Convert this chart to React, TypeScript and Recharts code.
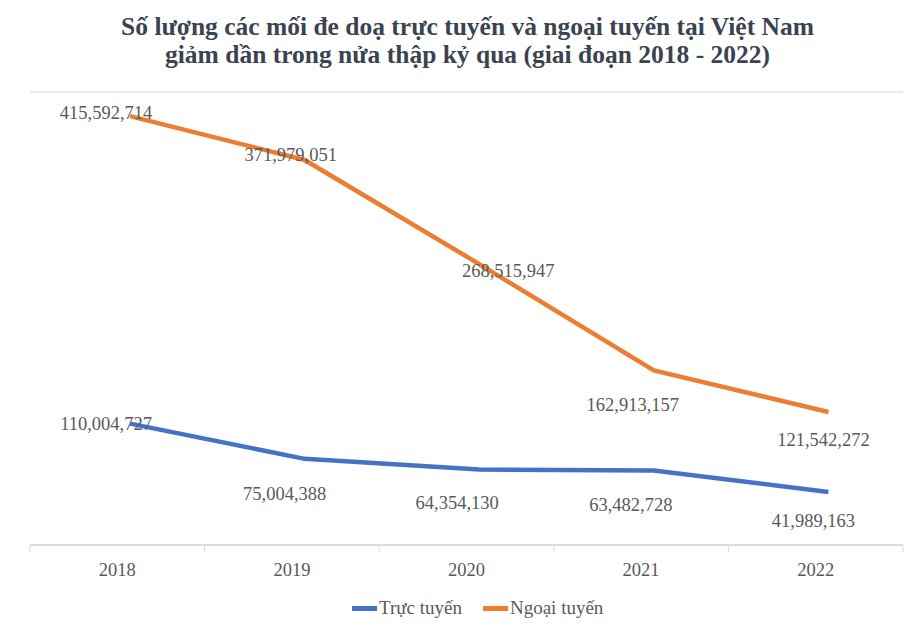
import { LineChart, Line, XAxis, YAxis, CartesianGrid, Legend, LabelList } from 'recharts';

const YEARS = [2018, 2019, 2020, 2021, 2022];
const ONLINE = [110004727, 75004388, 64354130, 63482728, 41989163];
const OFFLINE = [415592714, 371979051, 268515947, 162913157, 121542272];
const GRID_TICKS = [0, 50e6, 100e6, 150e6, 200e6, 250e6, 300e6, 350e6, 400e6, 450e6];
const AXIS_TICKS = [2017.5, 2018, 2018.5, 2019, 2019.5, 2020, 2020.5, 2021, 2021.5, 2022, 2022.5];
const LEGEND_ORDER = ['Trực tuyến', 'Ngoại tuyến'];

const data = YEARS.map((year, i) => ({ year, online: ONLINE[i], offline: OFFLINE[i] }));

// hand-placed label offsets, like the original chart
const ONLINE_LABEL_OFFSETS = [[-24, 0], [-20, 35], [-22, 33], [-23, 35], [-15, 29]];
const OFFLINE_LABEL_OFFSETS = [[-24, -3], [-14, -5], [29, 7], [-21, 35], [-5, 28]];

const SERIF = '"Liberation Serif", "Times New Roman", serif';
const TEXT_GRAY = '#595959';
const BLUE = '#4472C4';
const ORANGE = '#ED7D31';

function makeLabel(offsets: number[][]) {
  return (props: any) => {
    const { x, y, value, index } = props;
    const [dx, dy] = offsets[index] || [0, 0];
    return (
      <text
        x={x + dx}
        y={y + dy}
        textAnchor="middle"
        dominantBaseline="central"
        fontFamily={SERIF}
        fontSize={18.5}
        fill={TEXT_GRAY}
      >
        {Number(value).toLocaleString('en-US')}
      </text>
    );
  };
}

function YearTick(props: any) {
  const { x, y, payload } = props;
  const v = payload.value;
  if (v % 1 !== 0) {
    return <line x1={x} x2={x} y1={y} y2={y + 7} stroke="#d9d9d9" strokeWidth={1} />;
  }
  return (
    <text x={x} y={y + 31} textAnchor="middle" fontFamily={SERIF} fontSize={18.5} fill={TEXT_GRAY}>
      {v}
    </text>
  );
}

function LegendBox({ payload }: any) {
  return (
    <div style={{ display: 'flex', alignItems: 'center', fontFamily: SERIF, fontSize: 19, color: TEXT_GRAY }}>
      {(payload || []).map((p: any) => (
        <div key={p.value} style={{ display: 'flex', alignItems: 'center', marginRight: 21 }}>
          <span style={{ display: 'inline-block', width: 25, height: 5, background: p.color, marginRight: 2 }} />
          {p.value}
        </div>
      ))}
    </div>
  );
}

export default function App() {
  return (
    <div style={{ position: 'absolute', left: 0, top: 0, width: 911, height: 638, background: '#fff' }}>
      <div
        style={{
          position: 'absolute',
          left: 0,
          top: 13,
          width: 935,
          textAlign: 'center',
          fontFamily: SERIF,
          fontWeight: 700,
          fontSize: 25.5,
          lineHeight: '28px',
          color: '#3b4350',
          zIndex: 1,
        }}
      >
        Số lượng các mối đe doạ trực tuyến và ngoại tuyến tại Việt Nam
        <br />
        giảm dần trong nửa thập kỷ qua (giai đoạn 2018 - 2022)
      </div>
      <LineChart width={911} height={638} data={data} margin={{ top: 92, right: 8, bottom: 53, left: 30 }}>
        <CartesianGrid vertical={false} yAxisId="grid" xAxisId="cat" stroke="#e3e3e3" strokeWidth={1.5} />
        <XAxis
          xAxisId="cat"
          type="number"
          dataKey="year"
          domain={[2017.5, 2022.5]}
          ticks={AXIS_TICKS}
          interval={0}
          height={40}
          axisLine={{ stroke: '#d9d9d9', strokeWidth: 1.5 }}
          tickLine={false}
          tickSize={0}
          tickMargin={0}
          tick={<YearTick />}
        />
        <XAxis xAxisId="line" type="number" dataKey="year" domain={[2017.427, 2022.427]} hide />
        <YAxis yAxisId="grid" domain={[0, 450e6]} ticks={GRID_TICKS} hide />
        <YAxis yAxisId="val" domain={[-10.6e6, 439.5e6]} hide />
        <Legend
          verticalAlign="middle"
          align="center"
          layout="horizontal"
          itemSorter={(item: any) => LEGEND_ORDER.indexOf(item.value)}
          wrapperStyle={{ top: 597, left: 352, width: 'auto' }}
          content={<LegendBox />}
        />
        <Line
          xAxisId="line"
          yAxisId="val"
          dataKey="online"
          name="Trực tuyến"
          stroke={BLUE}
          strokeWidth={4.5}
          dot={false}
          isAnimationActive={false}
        >
          <LabelList dataKey="online" content={makeLabel(ONLINE_LABEL_OFFSETS)} />
        </Line>
        <Line
          xAxisId="line"
          yAxisId="val"
          dataKey="offline"
          name="Ngoại tuyến"
          stroke={ORANGE}
          strokeWidth={4.5}
          dot={false}
          isAnimationActive={false}
        >
          <LabelList dataKey="offline" content={makeLabel(OFFLINE_LABEL_OFFSETS)} />
        </Line>
      </LineChart>
    </div>
  );
}
